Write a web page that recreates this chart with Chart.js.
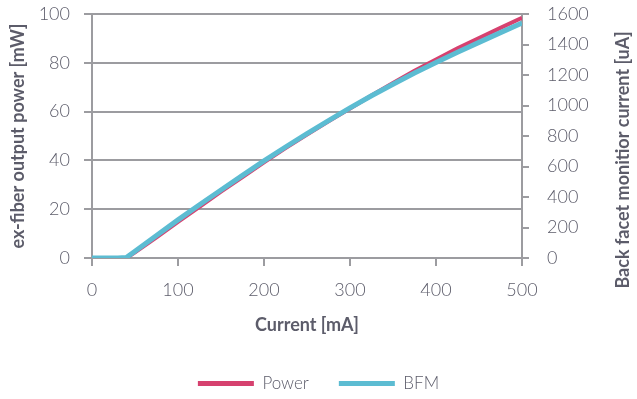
<!DOCTYPE html>
<html>
<head>
<meta charset="utf-8">
<script src="https://cdn.jsdelivr.net/npm/chart.js@4.4.1/dist/chart.umd.min.js"></script>
<style>
  body { margin: 0; background: #fff; }
  #wrap { width: 637px; height: 399px; }
</style>
</head>
<body>
<div id="wrap"><canvas id="chart" width="637" height="399"></canvas></div>
<script>
// Current sweep [mA]
const currents = [0, 10, 20, 30, 40, 50, 75, 100, 125, 150, 175, 200, 225, 250, 275, 300, 325, 350, 375, 400, 425, 450, 475, 500];
// ex-fiber output power [mW]
const powerValues = [0, 0, 0, 0, 0, 2.3, 8.5, 14.8, 21.0, 27.2, 33.2, 39.2, 45.0, 50.6, 56.0, 61.3, 66.6, 71.7, 76.7, 81.3, 85.9, 90.1, 94.3, 98.4];
// back facet monitor current [uA]
const bfmValues = [0, 0, 0, 0, 3, 45, 147, 250, 349, 446, 542, 637, 728, 816, 901, 984, 1064, 1139, 1213, 1282, 1349, 1414, 1478, 1541];

const xTicks = [0, 100, 200, 300, 400, 500];
const leftTicks = [0, 20, 40, 60, 80, 100];
const rightTicks = [0, 200, 400, 600, 800, 1000, 1200, 1400, 1600];

const textColor = '#5c5c6a';
const gridColor = '#9c9ca0';
const pink = '#d6416f';
const cyan = '#5cbcd2';
const fontFamily = 'Lato';
const rightTitle = 'Back facet monitior current [uA]';

const toPoints = (xs, ys) => xs.map((x, i) => ({ x: x, y: ys[i] }));

// right axis title reads bottom-to-top like the left one
const rightTitlePlugin = {
    id: 'rightTitle',
    afterDraw(chart) {
        const ctx = chart.ctx;
        ctx.save();
        ctx.translate(623, 160);
        ctx.rotate(-Math.PI / 2);
        ctx.fillStyle = textColor;
        ctx.font = `bold 18px ${fontFamily}`;
        ctx.textAlign = 'center';
        ctx.textBaseline = 'middle';
        ctx.fillText(rightTitle, 0, 0);
        ctx.restore();
    }
};

const tickFont = { family: fontFamily, size: 18, weight: 300 };

new Chart(document.getElementById('chart'), {
    type: 'line',
    data: {
        datasets: [
            {
                label: 'BFM',
                data: toPoints(currents, bfmValues),
                yAxisID: 'y1',
                borderColor: cyan,
                backgroundColor: cyan,
                borderWidth: 5,
                pointRadius: 0,
                order: 1
            },
            {
                label: 'Power',
                data: toPoints(currents, powerValues),
                yAxisID: 'y',
                borderColor: pink,
                backgroundColor: pink,
                borderWidth: 4,
                pointRadius: 0,
                order: 2
            }
        ]
    },
    plugins: [rightTitlePlugin],
    options: {
        responsive: false,
        animation: false,
        layout: { padding: { left: 0, right: 0, top: 14, bottom: 8 } },
        plugins: {
            tooltip: { enabled: false },
            legend: {
                position: 'bottom',
                reverse: true,
                maxHeight: 46,
                labels: {
                    color: textColor,
                    font: { family: fontFamily, size: 17, weight: 300 },
                    boxWidth: 56,
                    boxHeight: 5,
                    padding: 30,
                    useBorderRadius: true,
                    borderRadius: 2.5,
                    generateLabels: (chart) => chart.data.datasets.map((ds, i) => ({
                        text: ds.label,
                        fillStyle: ds.borderColor,
                        strokeStyle: ds.borderColor,
                        lineWidth: 0,
                        datasetIndex: i,
                        fontColor: textColor
                    }))
                }
            }
        },
        scales: {
            x: {
                type: 'linear',
                min: 0,
                max: 500,
                afterBuildTicks: (axis) => { axis.ticks = xTicks.map(v => ({ value: v })); },
                afterFit: (axis) => { axis.height = 87; },
                border: { color: gridColor, width: 2 },
                grid: { drawOnChartArea: false, color: gridColor, lineWidth: 2, tickLength: 8 },
                ticks: { color: textColor, font: tickFont, padding: 13 },
                title: {
                    display: true,
                    text: 'Current [mA]',
                    color: textColor,
                    font: { family: fontFamily, size: 18, weight: 'bold' },
                    padding: { top: 0, bottom: 9 }
                }
            },
            y: {
                position: 'left',
                min: 0,
                max: 100,
                afterBuildTicks: (axis) => { axis.ticks = leftTicks.map(v => ({ value: v })); },
                afterFit: (axis) => { axis.width = 92; axis.paddingTop = 0; axis.paddingBottom = 0; },
                border: { color: gridColor, width: 2 },
                grid: { color: gridColor, lineWidth: 2, tickLength: 8 },
                ticks: { color: textColor, font: tickFont, padding: 14 },
                title: {
                    display: true,
                    text: 'ex-fiber output power [mW]',
                    color: textColor,
                    font: { family: fontFamily, size: 18, weight: 'bold' },
                    padding: { top: 7, bottom: 0 }
                }
            },
            y1: {
                position: 'right',
                min: 0,
                max: 1600,
                afterBuildTicks: (axis) => { axis.ticks = rightTicks.map(v => ({ value: v })); },
                afterFit: (axis) => { axis.width = 115; axis.paddingTop = 0; axis.paddingBottom = 0; },
                border: { color: gridColor, width: 2 },
                grid: { drawOnChartArea: false, color: gridColor, lineWidth: 2, tickLength: 7 },
                ticks: {
                    color: textColor,
                    font: tickFont,
                    padding: 18,
                    callback: (v) => String(v)
                }
            }
        }
    }
});
</script>
</body>
</html>
